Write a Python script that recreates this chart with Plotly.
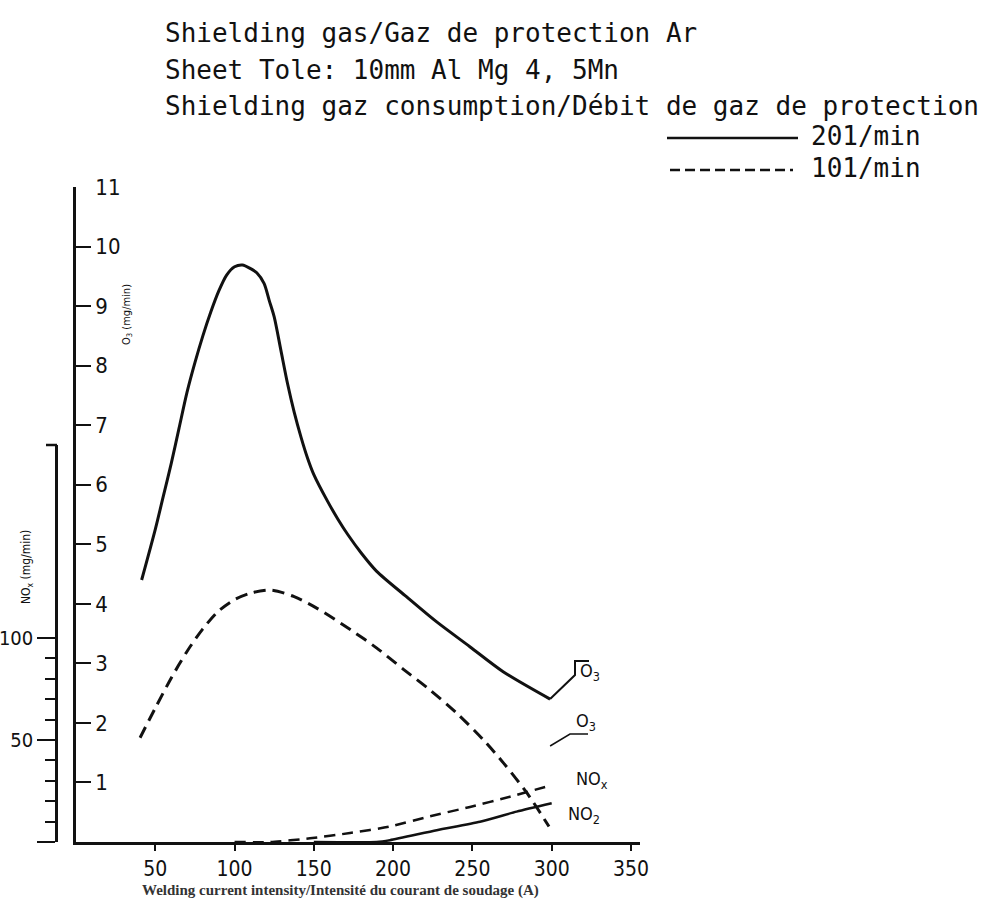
import plotly.graph_objects as go

# ---------------- data ----------------
# Welding current (A) and O3 emission (mg/min), shielding gas 20 l/min (solid)
current_o3_20 = [41.4, 50, 55, 60, 65, 70, 75, 80, 85, 90, 95, 100, 105, 110, 114,
                 118.6, 121.8, 125, 129.2, 133.4, 137.6, 141.9, 146, 150, 158.7, 165,
                 171.5, 180, 189.5, 208.4, 227.3, 248.4, 269.4, 299]
o3_20 = [4.40, 5.25, 5.80, 6.35, 6.95, 7.55, 8.05, 8.50, 8.90, 9.25, 9.52, 9.66, 9.69,
         9.63, 9.56, 9.38, 9.10, 8.82, 8.26, 7.70, 7.22, 6.80, 6.45, 6.17, 5.72, 5.43,
         5.16, 4.85, 4.55, 4.12, 3.70, 3.28, 2.86, 2.40]

# O3 emission (mg/min), shielding gas 10 l/min (dashed)
current_o3_10 = [40.4, 50, 60, 70, 80, 90, 100, 110.3, 122.9, 137.6, 152.3, 173.4,
                 189.5, 206.5, 223.4, 240.3, 257.1, 269.8, 284.5, 298.3]
o3_10 = [1.75, 2.25, 2.75, 3.20, 3.58, 3.88, 4.07, 4.18, 4.23, 4.12, 3.92, 3.56,
         3.26, 2.90, 2.55, 2.16, 1.71, 1.32, 0.82, 0.26]

# NOx emission (mg/min, left scale), 10 l/min (dashed)
current_nox_10 = [100, 122.4, 147.6, 172.8, 198, 223.2, 248.5, 273.7, 300]
nox_10 = [0, 0, 1.8, 4.4, 7.6, 12.6, 17.2, 22.2, 27.9]

# NO2 emission (mg/min, left scale), 20 l/min (solid)
current_no2_20 = [150, 189.6, 198, 227.5, 254.8, 277.9, 300]
no2_20 = [0, 0, 0.9, 5.8, 9.9, 14.9, 19.0]

x_ticks = [50, 100, 150, 200, 250, 300, 350]
y_ticks = [1, 2, 3, 4, 5, 6, 7, 8, 9, 10, 11]
y2_major = [0, 50, 100]
y2_major_text = ["", "50", "100"]
y2_minor = [10, 20, 30, 40, 60, 70, 80, 90]

title_lines = ["Shielding gas/Gaz de protection Ar",
               "Sheet Tole: 10mm Al Mg 4, 5Mn",
               "Shielding gaz consumption/Débit de gaz de protection"]
legend_labels = ["201/min", "101/min"]
curve_labels = ["O<sub>3</sub>", "O<sub>3</sub>", "NO<sub>x</sub>", "NO<sub>2</sub>"]

# ---------------- geometry (pixels) ----------------
W, H = 987, 908
L_PX, R_PX = 56, 640        # plot area (includes secondary scale at left)
T_PX, B_PX = 187, 842
AX_PX = 76                  # position of main y axis / x = 0
PW = R_PX - L_PX
PH = B_PX - T_PX
X_MAX = 355.7
Y_MAX = 11
Y2_TOP_PX = 445
Y2_MAX = 194.6


def px_x(px):
    return (px - L_PX) / PW


def px_y(py):
    return (B_PX - py) / PH


def dx(px):  # pixel -> data x
    return (px - AX_PX) / (R_PX - AX_PX) * X_MAX


def dy(py):  # pixel -> data y
    return (B_PX - py) / PH * Y_MAX


TICK_FONT = dict(family="DejaVu Sans Condensed, Liberation Sans Narrow, DejaVu Sans",
                 size=22, color="#111111")
X_TICK_FONT = dict(family="DejaVu Sans Condensed, Liberation Sans Narrow, DejaVu Sans",
                   size=21, color="#111111")
Y2_TICK_FONT = dict(family="DejaVu Sans Condensed, Liberation Sans Narrow, DejaVu Sans",
                    size=20, color="#111111")
MONO = dict(family="DejaVu Sans Mono, Liberation Mono, monospace", size=26, color="#111111")
INK = "#111111"

fig = go.Figure()

fig.add_trace(go.Scatter(x=current_o3_20, y=o3_20, mode="lines",
                         line=dict(color=INK, width=3, shape="spline", smoothing=0.8),
                         name="201/min O3", showlegend=False, hoverinfo="skip"))
fig.add_trace(go.Scatter(x=current_o3_10, y=o3_10, mode="lines",
                         line=dict(color=INK, width=3, dash="12px,7px", shape="spline",
                                   smoothing=0.8),
                         name="101/min O3", showlegend=False, hoverinfo="skip"))
fig.add_trace(go.Scatter(x=current_nox_10, y=nox_10, mode="lines", yaxis="y2",
                         line=dict(color=INK, width=2.5, dash="11px,7px", shape="spline",
                                   smoothing=0.6),
                         name="101/min NOx", showlegend=False, hoverinfo="skip"))
fig.add_trace(go.Scatter(x=current_no2_20, y=no2_20, mode="lines", yaxis="y2",
                         line=dict(color=INK, width=2.5, shape="spline", smoothing=0.6),
                         name="201/min NO2", showlegend=False, hoverinfo="skip"))

shapes = []
# legend samples
shapes.append(dict(type="line", xref="paper", yref="paper",
                   x0=px_x(667), x1=px_x(798), y0=px_y(138), y1=px_y(138),
                   line=dict(color=INK, width=2.5)))
shapes.append(dict(type="line", xref="paper", yref="paper",
                   x0=px_x(670), x1=px_x(793), y0=px_y(170), y1=px_y(170),
                   line=dict(color=INK, width=2.5, dash="10px,5px")))
# cap of the secondary scale
shapes.append(dict(type="line", xref="paper", yref="paper",
                   x0=px_x(46), x1=px_x(57), y0=px_y(Y2_TOP_PX), y1=px_y(Y2_TOP_PX),
                   line=dict(color=INK, width=2.5)))
# leader lines to curve labels
xe, ye = current_o3_20[-1], o3_20[-1]
shapes.append(dict(type="path", xref="x", yref="y",
                   path=f"M {xe},{ye} L {dx(575)},{dy(675)} L {dx(575)},{dy(661)} L {dx(589)},{dy(661)}",
                   line=dict(color=INK, width=2)))
shapes.append(dict(type="path", xref="x", yref="y",
                   path=f"M {xe},{dy(746)} L {dx(570)},{dy(734)} L {dx(588)},{dy(734)}",
                   line=dict(color=INK, width=1.5)))

ann = []
for t, py in zip(title_lines, [33, 70, 106]):
    ann.append(dict(text=t, xref="paper", yref="paper", x=px_x(163), y=px_y(py),
                    xanchor="left", yanchor="middle", showarrow=False, font=MONO))
for t, py in zip(legend_labels, [136, 168]):
    ann.append(dict(text=t, xref="paper", yref="paper", x=px_x(809), y=px_y(py),
                    xanchor="left", yanchor="middle", showarrow=False, font=MONO))
# axis titles
ann.append(dict(text="O<sub>3</sub> (mg/min)", xref="paper", yref="paper",
                x=px_x(127), y=px_y(315), textangle=-90, showarrow=False,
                xanchor="center", yanchor="middle",
                font=dict(family="DejaVu Sans Condensed, DejaVu Sans", size=11, color=INK)))
ann.append(dict(text="NO<sub>x</sub> (mg/min)", xref="paper", yref="paper",
                x=px_x(27), y=px_y(567), textangle=-90, showarrow=False,
                xanchor="center", yanchor="middle",
                font=dict(family="DejaVu Sans Condensed, DejaVu Sans", size=12, color=INK)))
ann.append(dict(text="<b>Welding current intensity/Intensité du courant de soudage (A)</b>",
                xref="paper", yref="paper", x=px_x(340), y=px_y(890), showarrow=False,
                xanchor="center", yanchor="middle",
                font=dict(family="Liberation Serif, serif", size=15, color="#333333")))
# curve labels
for t, (px, py) in zip(curve_labels, [(578, 672), (574, 722), (574, 780), (566, 815)]):
    ann.append(dict(text=t, xref="paper", yref="paper", x=px_x(px), y=px_y(py),
                    xanchor="left", yanchor="middle", showarrow=False,
                    font=dict(family="DejaVu Sans Condensed, DejaVu Sans", size=18, color=INK)))

fig.update_layout(
    width=W, height=H,
    margin=dict(l=L_PX, r=W - R_PX, t=T_PX, b=H - B_PX, pad=0, autoexpand=False),
    paper_bgcolor="white", plot_bgcolor="rgba(0,0,0,0)",
    showlegend=False,
    xaxis=dict(domain=[px_x(AX_PX), 1], range=[0, X_MAX], tickvals=x_ticks,
               anchor="y", automargin=False,
               showline=True, linecolor=INK, linewidth=2.5, ticks="outside",
               ticklen=6, tickwidth=1.5, tickcolor=INK, showgrid=False, zeroline=False,
               tickfont=X_TICK_FONT),
    yaxis=dict(range=[0, Y_MAX], tickvals=y_ticks, anchor="x", automargin=False,
               showline=True, linecolor=INK, linewidth=2.5, ticks="inside",
               ticklen=15, tickwidth=2, tickcolor=INK, ticklabelposition="inside",
               ticklabelstandoff=6, ticklabeloverflow="allow",
               showgrid=False, zeroline=False, tickfont=TICK_FONT),
    yaxis2=dict(anchor="free", position=0, side="left", automargin=False,
                domain=[0, px_y(Y2_TOP_PX)], range=[0, Y2_MAX],
                tickvals=y2_major, ticktext=y2_major_text,
                showline=True, linecolor=INK, linewidth=2.5, ticks="outside",
                ticklen=18, tickwidth=2, tickcolor=INK, showgrid=False, zeroline=False,
                tickfont=Y2_TICK_FONT,
                minor=dict(tickvals=y2_minor, ticks="outside", ticklen=10, tickwidth=2,
                           tickcolor=INK, showgrid=False)),
    shapes=shapes,
    annotations=ann,
)

fig.write_html("out.html")
